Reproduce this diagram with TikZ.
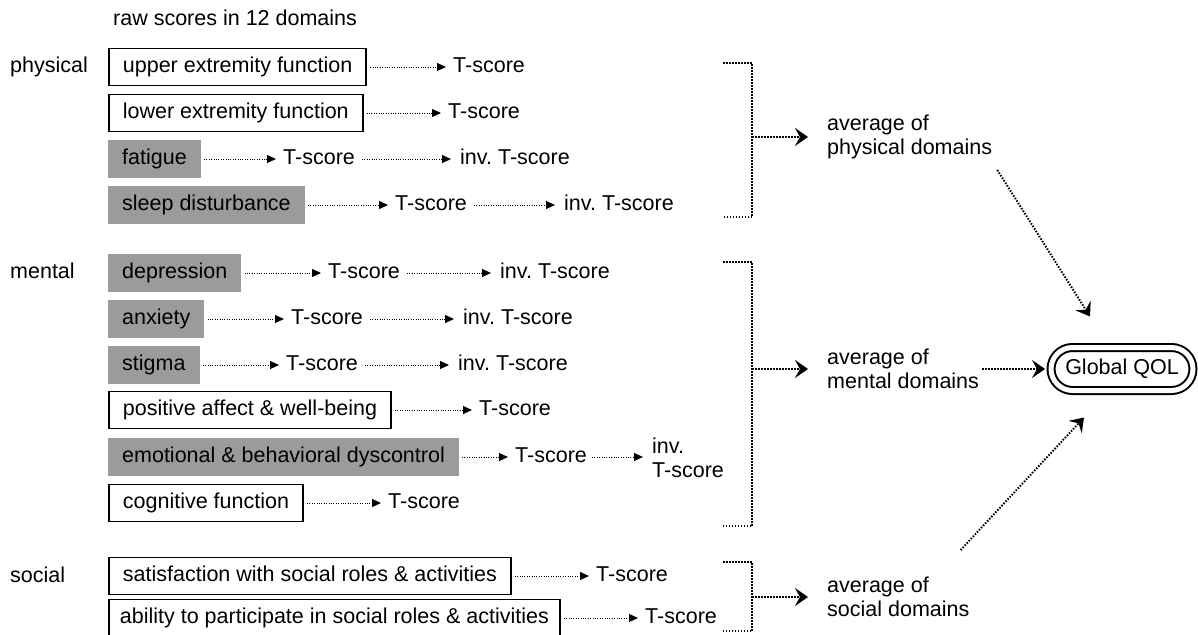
\documentclass[tikz,border=0pt]{standalone}
\usepackage{fontspec}
\setmainfont{Liberation Sans}
\usetikzlibrary{arrows.meta,shapes.misc}
\definecolor{boxgray}{RGB}{155,155,155}
\begin{document}
\begin{tikzpicture}[x=1pt,y=-1pt,
  every node/.style={font=\fontsize{21.5}{24.5}\selectfont, inner sep=0pt, anchor=west},
  txt/.style={text height=15pt, text depth=4pt},
  wbox/.style={txt, draw, line width=1.8pt, minimum height=37pt, inner xsep=14pt},
  gbox/.style={txt, fill=boxgray, minimum height=38pt, inner xsep=14pt},
  multi/.style={align=left},
  sarr/.style={line width=0.9pt, dash pattern=on 1pt off 1.4pt, -{Triangle[length=9pt,width=8pt]}, shorten <=3pt, shorten >=7pt},
  sarrb/.style={sarr, shorten <=7pt, shorten >=9pt},
  bigline/.style={line width=2pt, dash pattern=on 1.5pt off 1.5pt},
  bigarr/.style={bigline, -{Stealth[length=13pt,width=18pt,inset=5pt]}},
  gqbox/.style={txt, anchor=center, draw, rounded rectangle, line width=2pt, double, double distance=5pt, minimum height=43pt, inner xsep=12pt}
]
\useasboundingbox (0,0) rectangle (1198,634);

% headings and group labels
\node[txt] (raw) at (113,20) {raw scores in 12 domains};
\node[txt] (lphys) at (10,67) {physical};
\node[txt] (lment) at (10,273) {mental};
\node[txt] (lsoc) at (10,577) {social};

% physical
\node[wbox] (b1) at (108,67) {upper extremity function};
\node[txt] (t1) at (453,67) {T-score};
\draw[sarr] (b1.east) -- (t1.west);

\node[wbox] (b2) at (108,113) {lower extremity function};
\node[txt] (t2) at (448,113) {T-score};
\draw[sarr] (b2.east) -- (t2.west);

\node[gbox] (b3) at (108,159) {fatigue};
\node[txt] (t3) at (283,159) {T-score};
\node[txt] (i3) at (460,159) {inv.\ T-score};
\draw[sarr] (b3.east) -- (t3.west);
\draw[sarrb] (t3.east) -- (i3.west);

\node[gbox] (b4) at (108,205) {sleep disturbance};
\node[txt] (t4) at (395,205) {T-score};
\node[txt] (i4) at (564,205) {inv.\ T-score};
\draw[sarr] (b4.east) -- (t4.west);
\draw[sarrb] (t4.east) -- (i4.west);

% mental
\node[gbox] (b5) at (108,273) {depression};
\node[txt] (t5) at (328,273) {T-score};
\node[txt] (i5) at (500,273) {inv.\ T-score};
\draw[sarr] (b5.east) -- (t5.west);
\draw[sarrb] (t5.east) -- (i5.west);

\node[gbox] (b6) at (108,319) {anxiety};
\node[txt] (t6) at (291,319) {T-score};
\node[txt] (i6) at (463,319) {inv.\ T-score};
\draw[sarr] (b6.east) -- (t6.west);
\draw[sarrb] (t6.east) -- (i6.west);

\node[gbox] (b7) at (108,365) {stigma};
\node[txt] (t7) at (286,365) {T-score};
\node[txt] (i7) at (458,365) {inv.\ T-score};
\draw[sarr] (b7.east) -- (t7.west);
\draw[sarrb] (t7.east) -- (i7.west);

\node[wbox] (b8) at (108,410) {positive affect \& well-being};
\node[txt] (t8) at (479,410) {T-score};
\draw[sarr] (b8.east) -- (t8.west);

\node[gbox] (b9) at (108,457) {emotional \& behavioral dyscontrol};
\node[txt] (t9) at (515,457) {T-score};
\node[multi] (i9) at (652,458) {inv.\\T-score};
\draw[sarr] (b9.east) -- (t9.west);
\draw[sarr, shorten <=5pt, shorten >=9pt] (t9.east) -- (t9.east -| i9.west);

\node[wbox] (b10) at (108,503) {cognitive function};
\node[txt] (t10) at (388,503) {T-score};
\draw[sarr] (b10.east) -- (t10.west);

% social
\node[wbox, minimum width=399pt] (b11) at (108,576) {satisfaction with social roles \& activities};
\node[txt] (t11) at (596,576) {T-score};
\draw[sarr] (b11.east) -- (t11.west);

\node[wbox, inner xsep=11pt] (b12) at (108,618) {ability to participate in social roles \& activities};
\node[txt] (t12) at (645,618) {T-score};
\draw[sarr] (b12.east) -- (t12.west);

% averages
\node[multi] (ap) at (827,137) {average of\\physical domains};
\node[multi] (am) at (827,369) {average of\\mental domains};
\node[multi] (as) at (827,597) {average of\\social domains};

% brackets
\coordinate (pt) at (723,63);
\coordinate (pm) at (752,137);
\coordinate (pb) at (723,217);
\draw[bigline] (pt) -| (pm) |- (pb);
\draw[bigarr, shorten >=19pt] (pm) -- (pm -| ap.west);

\coordinate (mt) at (723,262);
\coordinate (mm) at (752,369);
\coordinate (mb) at (723,526);
\draw[bigline] (mt) -| (mm) |- (mb);
\draw[bigarr, shorten >=19pt] (mm) -- (mm -| am.west);

\coordinate (st) at (723,562);
\coordinate (sm) at (752,597);
\coordinate (sb) at (723,631);
\draw[bigline] (st) -| (sm) |- (sb);
\draw[bigarr, shorten >=19pt] (sm) -- (sm -| as.west);

% global
\node[gqbox] (gq) at (1122,369) {Global QOL};
\draw[bigarr, shorten <=3pt, shorten >=5pt] (am.east) -- (am.east -| gq.west);
\draw[bigarr] ([shift={(5,33)}]ap.east) -- ([shift={(-32,-30)}]gq.north);
\draw[bigarr] ([shift={(-9,-47)}]as.east) -- ([shift={(-38,26)}]gq.south);
\end{tikzpicture}
\end{document}
